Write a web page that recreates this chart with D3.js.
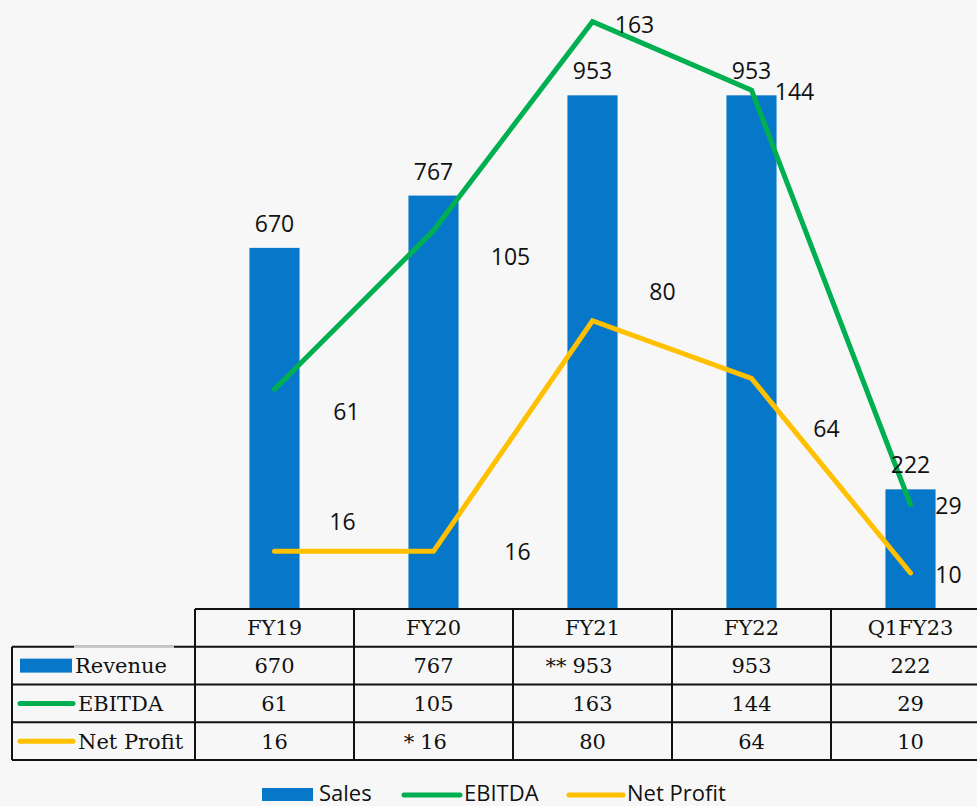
<!DOCTYPE html>
<html><head><meta charset="utf-8">
<script src="https://cdn.jsdelivr.net/npm/d3@7"></script>
<style>html,body{margin:0;padding:0;background:#f7f7f7} svg{display:block}</style>
</head><body><svg id="c" width="977" height="806"></svg>
<script>
// ---- data ----
const categories = ["FY19", "FY20", "FY21", "FY22", "Q1FY23"];
const revenue = [670, 767, 953, 953, 222];
const ebitda = [61, 105, 163, 144, 29];
const netProfit = [16, 16, 80, 64, 10];
const revenueNotes = ["", "", "**", "", ""];
const ebitdaNotes = ["", "", "", "", ""];
const netProfitNotes = ["", "*", "", "", ""];
const tableRowLabels = ["Revenue", "EBITDA", "Net Profit"];
const legendLabels = ["Sales", "EBITDA", "Net Profit"];

// ---- layout (label nudges, px) ----
const ebitdaLabelOffsets = [[72, 31], [77, 34], [42, 11], [43, 10], [38, 10]];
const profitLabelOffsets = [[68, -21], [84, 9], [70, -21], [75, 59], [38, 10]];

const C = {blue: "#0777C9", green: "#00B050", yellow: "#FFC000", ink: "#111"};
const SANS = "'Open Sans', sans-serif";
const SERIF = "'DejaVu Serif', serif";

const svg = d3.select("#c");
svg.append("rect").attr("width", 977).attr("height", 806).attr("fill", "#f7f7f7");

const x = d3.scaleBand().domain(categories).range([195, 990]).padding(0);
const cx = c => x(c) + x.bandwidth() / 2;
const yBar = d3.scaleLinear().domain([0, 1000]).range([609, 70]);
const yLine = d3.scaleLinear().domain([0, 169]).range([609, 0]);
const barW = x.bandwidth() * 0.315;

// bars
svg.append("g").selectAll("rect").data(categories).join("rect")
  .attr("x", c => cx(c) - barW / 2)
  .attr("y", (c, i) => yBar(revenue[i]))
  .attr("width", barW)
  .attr("height", (c, i) => yBar(0) - yBar(revenue[i]))
  .attr("fill", C.blue);

// lines
const line = d3.line().x(d => cx(d.c)).y(d => yLine(d.v));
[[ebitda, C.green], [netProfit, C.yellow]].forEach(([vals, col]) => {
  svg.append("path")
    .datum(categories.map((c, i) => ({c, v: vals[i]})))
    .attr("d", line).attr("fill", "none").attr("stroke", col)
    .attr("stroke-width", 5).attr("stroke-linecap", "round").attr("stroke-linejoin", "miter");
});

// data labels
const lab = svg.append("g").attr("font-family", SANS).attr("font-size", 23).attr("fill", "#111").attr("text-anchor", "middle");
categories.forEach((c, i) => {
  lab.append("text").attr("x", cx(c)).attr("y", yBar(revenue[i]) - 16).text(revenue[i]);
  lab.append("text").attr("x", cx(c) + ebitdaLabelOffsets[i][0]).attr("y", yLine(ebitda[i]) + ebitdaLabelOffsets[i][1]).text(ebitda[i]);
  lab.append("text").attr("x", cx(c) + profitLabelOffsets[i][0]).attr("y", yLine(netProfit[i]) + profitLabelOffsets[i][1]).text(netProfit[i]);
});

// ---- data table ----
const rows = d3.scaleBand().domain(["header", ...tableRowLabels]).range([609, 760]);
const leftX = 12, colStart = 195, rightX = 990;
const tbl = svg.append("g").attr("stroke", C.ink).attr("stroke-width", 2);
tbl.append("line").attr("x1", colStart).attr("x2", rightX).attr("y1", rows("header")).attr("y2", rows("header"));
tableRowLabels.forEach(r => {
  tbl.append("line").attr("x1", leftX).attr("x2", rightX).attr("y1", rows(r)).attr("y2", rows(r));
});
tbl.append("line").attr("x1", leftX).attr("x2", rightX).attr("y1", 760).attr("y2", 760);
tbl.append("line").attr("x1", leftX).attr("x2", leftX).attr("y1", rows("Revenue")).attr("y2", 760);
categories.forEach(c => {
  tbl.append("line").attr("x1", x(c)).attr("x2", x(c)).attr("y1", rows("header")).attr("y2", 760);
});
tbl.append("line").attr("x1", rightX).attr("x2", rightX).attr("y1", rows("header")).attr("y2", 760);
// faint segment on the left block's top border
svg.append("line").attr("x1", 74).attr("x2", 174).attr("y1", rows("Revenue")).attr("y2", rows("Revenue"))
  .attr("stroke", "#f7f7f7").attr("stroke-width", 2.2);
svg.append("line").attr("x1", 74).attr("x2", 174).attr("y1", rows("Revenue") - 0.5).attr("y2", rows("Revenue") - 0.5)
  .attr("stroke", "#b5b5b5").attr("stroke-width", 1);

const tt = svg.append("g").attr("font-family", SERIF).attr("font-size", 21).attr("fill", "#111");
const rc = r => rows(r) + rows.bandwidth() / 2;
categories.forEach(c => {
  tt.append("text").attr("x", cx(c)).attr("y", rc("header")).attr("dy", "0.36em").attr("text-anchor", "middle").text(c);
});
const tableSeries = [[revenue, revenueNotes], [ebitda, ebitdaNotes], [netProfit, netProfitNotes]];
tableRowLabels.forEach((r, ri) => {
  const [vals, notes] = tableSeries[ri];
  categories.forEach((c, i) => {
    const t = tt.append("text").attr("x", cx(c)).attr("y", rc(r)).attr("dy", "0.36em").attr("text-anchor", "middle").text(vals[i]);
    if (notes[i]) {
      const w = t.node().getComputedTextLength();
      tt.append("text").attr("x", cx(c) - w / 2 - 6).attr("y", rc(r)).attr("dy", "0.36em").attr("text-anchor", "end").text(notes[i]);
    }
  });
  if (ri === 0) {
    svg.append("rect").attr("x", 20).attr("y", rc(r) - 7).attr("width", 52).attr("height", 14).attr("fill", C.blue);
  } else {
    svg.append("line").attr("x1", 20).attr("x2", 73).attr("y1", rc(r)).attr("y2", rc(r))
      .attr("stroke", ri === 1 ? C.green : C.yellow).attr("stroke-width", 5).attr("stroke-linecap", "round");
  }
  tt.append("text").attr("x", ri === 0 ? 75 : 78).attr("y", rc(r)).attr("dy", "0.36em").text(r);
});

// ---- legend ----
const lg = svg.append("g").attr("font-family", SANS).attr("font-size", 22).attr("fill", "#111");
const legendKeys = [{x: 262, w: 51, type: "rect", col: C.blue, tx: 319},
                    {x: 404, w: 56, type: "line", col: C.green, tx: 464},
                    {x: 569, w: 54, type: "line", col: C.yellow, tx: 627}];
legendLabels.forEach((l, i) => {
  const k = legendKeys[i];
  if (k.type === "rect") lg.append("rect").attr("x", k.x).attr("y", 788).attr("width", k.w).attr("height", 13).attr("fill", k.col);
  else lg.append("line").attr("x1", k.x).attr("x2", k.x + k.w).attr("y1", 795).attr("y2", 795)
    .attr("stroke", k.col).attr("stroke-width", 5).attr("stroke-linecap", "round");
  lg.append("text").attr("x", k.tx).attr("y", 801).text(l);
});
</script></body></html>
